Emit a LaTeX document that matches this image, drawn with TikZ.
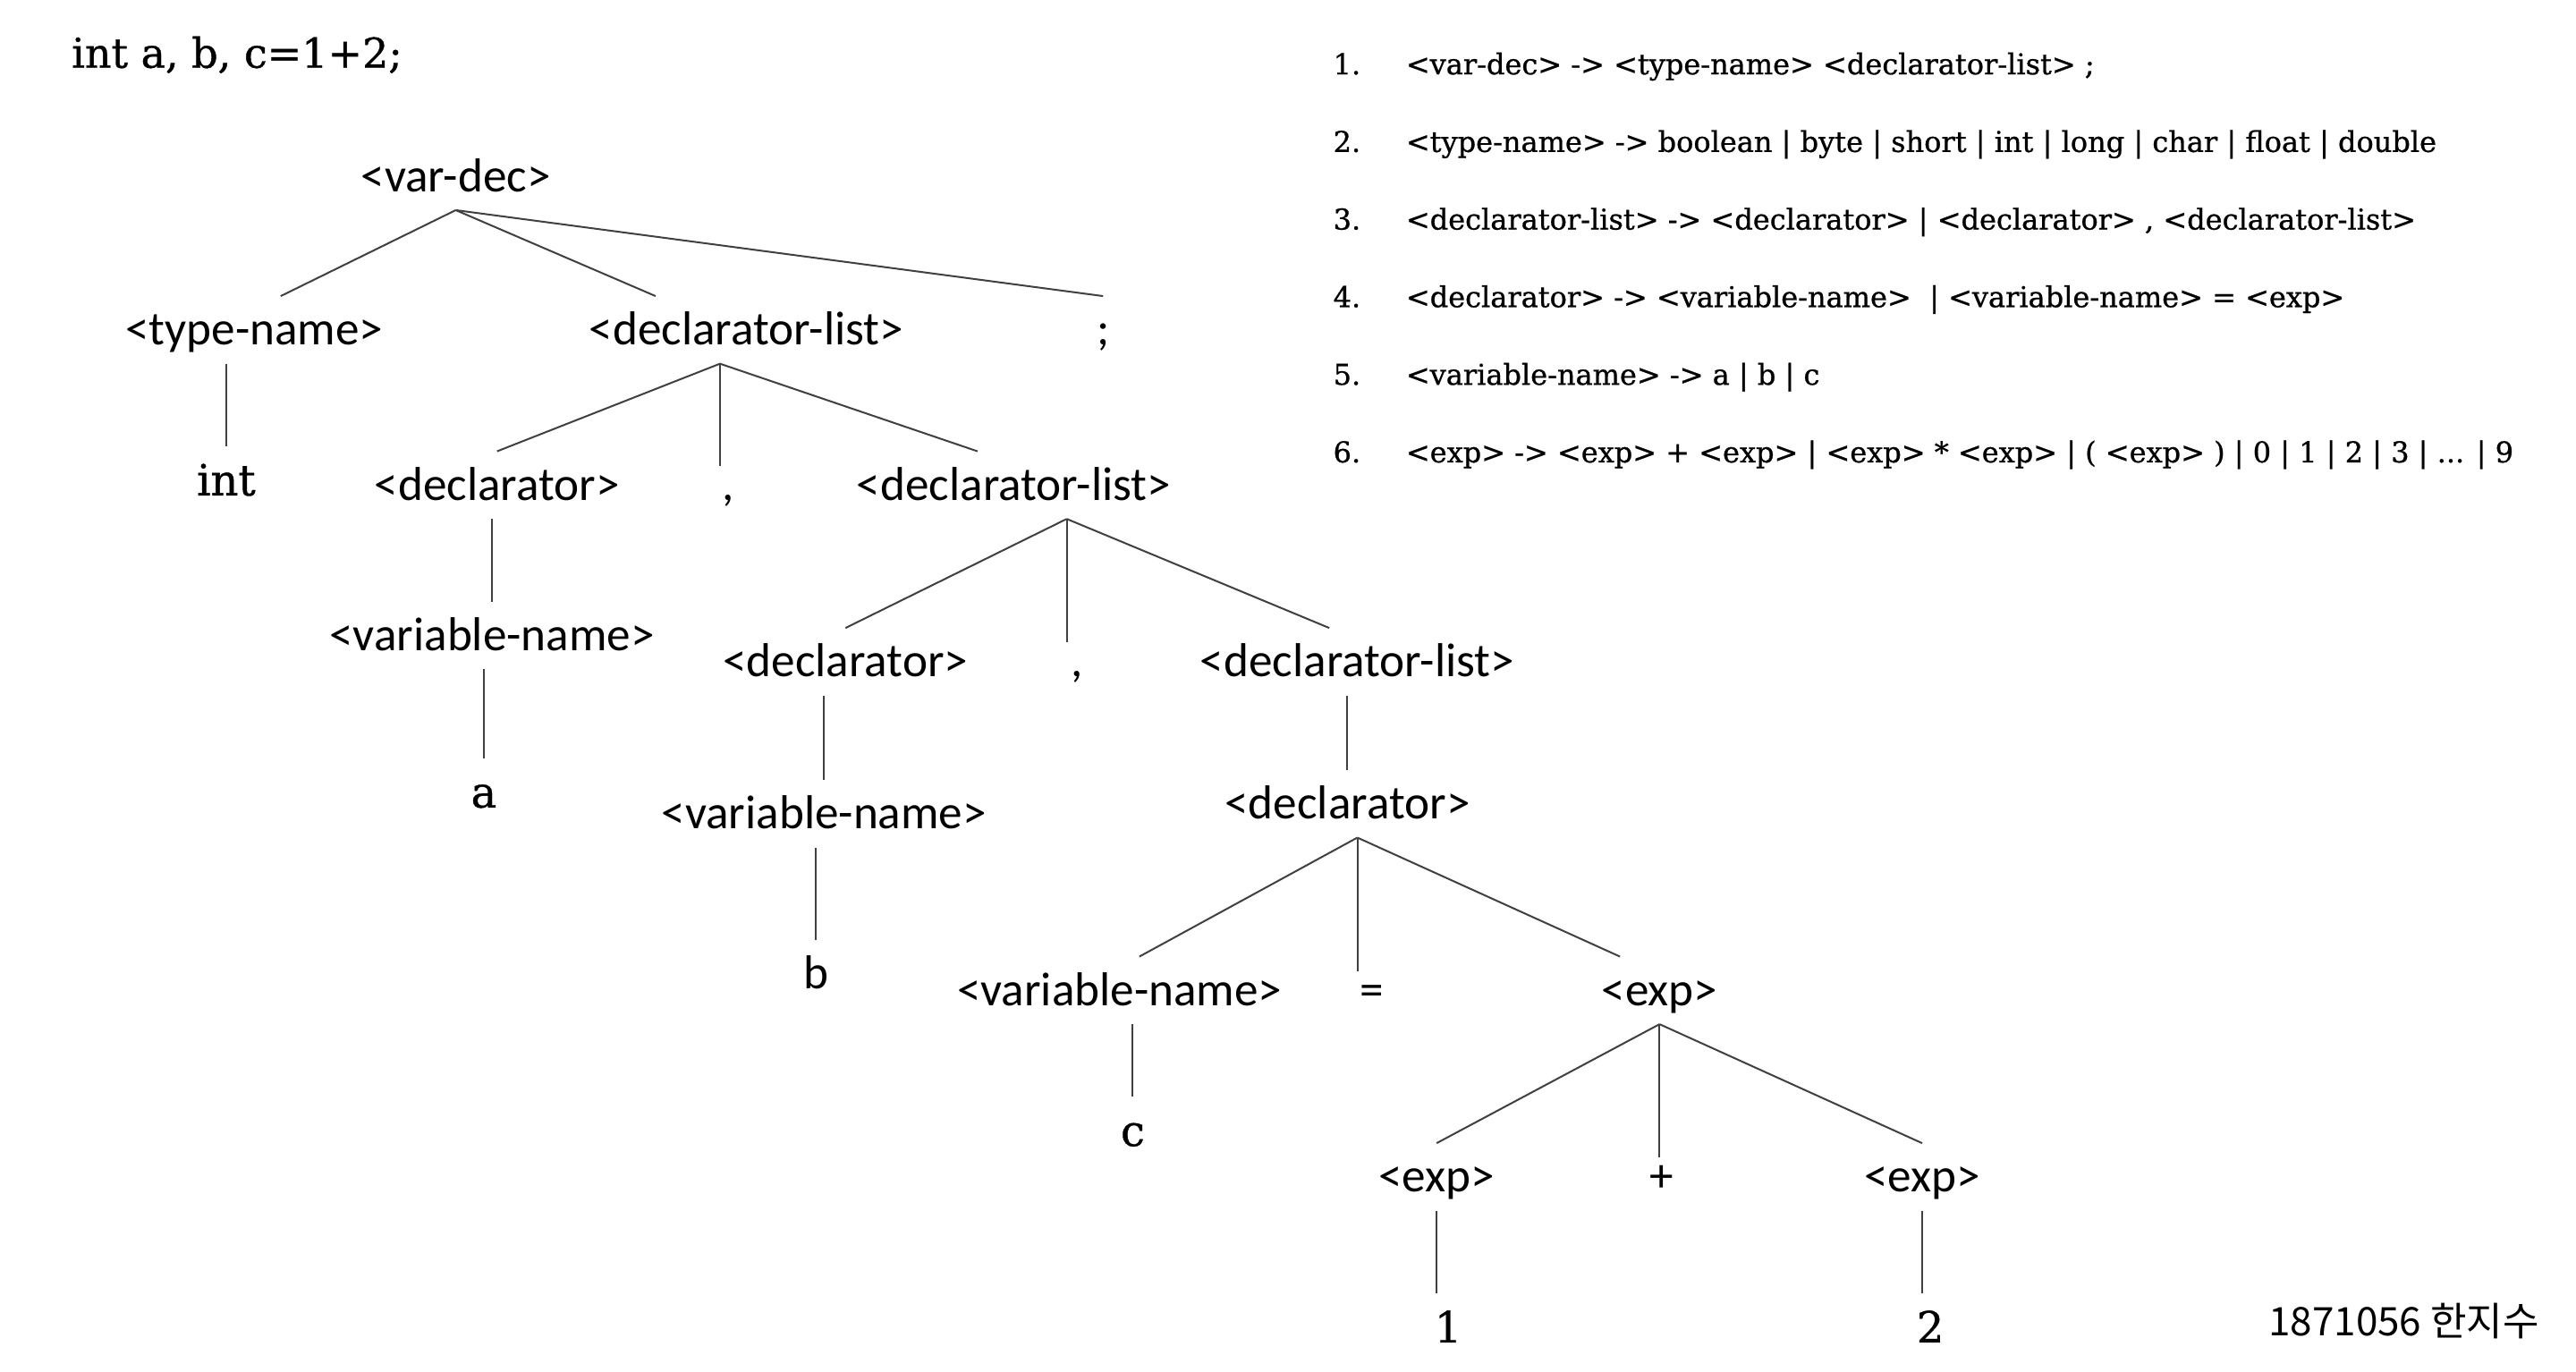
\documentclass[tikz,border=0pt]{standalone}
\usepackage{fontspec}
\setmainfont{Carlito}
\newfontfamily\codefont[FakeBold=0.8]{DejaVu Serif}
\newfontfamily\krfont{Noto Sans CJK KR}
\usetikzlibrary{calc}

\tikzset{
  sym/.style={font=\fontsize{13.3}{16}\selectfont, anchor=base, inner sep=0pt, text height=13.5pt, text depth=5pt},
  punct/.style={sym, text height=9.5pt},
  term/.style={sym, font=\codefont\fontsize{12}{14}\selectfont},
  prod/.style={font=\codefont\fontsize{8}{10}\selectfont, anchor=base west, inner sep=0pt},
  link/.style={draw=black!75, line width=0.5pt}
}

\begin{document}
\begin{tikzpicture}[x=0.4615pt, y=-0.4615pt]

	\useasboundingbox (0,0) rectangle (1560,830.4);

	%The source line
	\node[anchor=base west, inner sep=0pt, font=\codefont\fontsize{11.5}{14}\selectfont] (src) at (43,41) {int a, b, c=1+2;};

	%The grammar
	\node[prod] (r1) at (807,45) {1.};
	\node[prod] (p1) at (851,45) {<var-dec> -> <type-name> <declarator-list> ;};
	\node[prod] (r2) at (807,92) {2.};
	\node[prod] (p2) at (851,92) {<type-name> -> boolean | byte | short | int | long | char | float | double};
	\node[prod] (r3) at (807,139) {3.};
	\node[prod] (p3) at (851,139) {<declarator-list> -> <declarator> | <declarator> , <declarator-list>};
	\node[prod] (r4) at (807,186) {4.};
	\node[prod] (p4) at (851,186) {<declarator> -> <variable-name> \ | <variable-name> = <exp>};
	\node[prod] (r5) at (807,233) {5.};
	\node[prod] (p5) at (851,233) {<variable-name> -> a | b | c};
	\node[prod] (r6) at (807,280) {6.};
	\node[prod] (p6) at (851,280) {<exp> -> <exp> + <exp> | <exp> * <exp> | ( <exp> ) | 0 | 1 | 2 | 3 | ... | 9};

	%The parse tree
	\node[sym] (vardec) at (276,116) {<var-dec>};
	\node[sym] (typename) at (154,209) {<type-name>};
	\node[sym] (dlist1) at (452,209) {<declarator-list>};
	\node[sym] (semi) at (668,209) {;};
	\node[term] (int) at (137,300) {int};
	\node[sym] (decl1) at (301,303) {<declarator>};
	\node[punct] (comma1) at (441,303) {,};
	\node[sym] (dlist2) at (614,303) {<declarator-list>};
	\node[sym] (var1) at (298,394) {<variable-name>};
	\node[term] (a) at (293,489) {a};
	\node[sym] (decl2) at (512,410) {<declarator>};
	\node[punct] (comma2) at (652,410) {,};
	\node[sym] (dlist3) at (822,410) {<declarator-list>};
	\node[sym] (var2) at (499,502) {<variable-name>};
	\node[sym] (b) at (494,599) {b};
	\node[sym] (decl3) at (816,496) {<declarator>};
	\node[sym] (var3) at (678,609) {<variable-name>};
	\node[punct] (eq) at (831,609) {=};
	\node[sym] (exp1) at (1005,609) {<exp>};
	\node[term] (c) at (686,694) {c};
	\node[sym] (exp2) at (870,722) {<exp>};
	\node[punct] (plus) at (1006,722) {+};
	\node[sym] (exp3) at (1164,722) {<exp>};
	\node[term] (one) at (877,813) {1};
	\node[term] (two) at (1169,813) {2};

	%Forks under the nodes with three children
	\coordinate (fork1) at ($(dlist1.south)+(-16,0)$);
	\coordinate (fork2) at ($(dlist2.south)+(32,0)$);
	\coordinate (fork3) at ($(decl3.south)+(6,0)$);

	\draw[link] (vardec.south) -- ($(typename.north)+(16,0)$);
	\draw[link] (vardec.south) -- ($(dlist1.north)+(-55,0)$);
	\draw[link] (vardec.south) -- (semi.north);
	\draw[link] (typename.south -| int.north) -- (int.north);

	\draw[link] (fork1) -- (decl1.north);
	\draw[link] (fork1) -- (fork1 |- comma1.north);
	\draw[link] (fork1) -- ($(dlist2.north)+(-22,0)$);
	\draw[link] (decl1.south -| var1.north) -- (var1.north);
	\draw[link] (var1.south -| a.north) -- (a.north);

	\draw[link] (fork2) -- (decl2.north);
	\draw[link] (fork2) -- (fork2 |- comma2.north);
	\draw[link] (fork2) -- ($(dlist3.north)+(-17,0)$);
	\draw[link] (decl2.south -| var2.north) -- (var2.north);
	\draw[link] (var2.south -| b.north) -- (b.north);
	\draw[link] (dlist3.south -| decl3.north) -- (decl3.north);

	\draw[link] (fork3) -- ($(var3.north)+(12,0)$);
	\draw[link] (fork3) -- (fork3 |- eq.north);
	\draw[link] (fork3) -- ($(exp1.north)+(-24,0)$);
	\draw[link] (var3.south -| c.north) -- (c.north);

	\draw[link] (exp1.south) -- (exp2.north);
	\draw[link] (exp1.south) -- (exp1.south |- plus.north);
	\draw[link] (exp1.south) -- (exp3.north);
	\draw[link] (exp2.south) -- (exp2.south |- one.north);
	\draw[link] (exp3.south) -- (exp3.south |- two.north);

	%Signature
	\node[anchor=base east, inner sep=0pt, font=\krfont\fontsize{11}{13}\selectfont] (sign) at (1538,809) {1871056 한지수};

\end{tikzpicture}
\end{document}
